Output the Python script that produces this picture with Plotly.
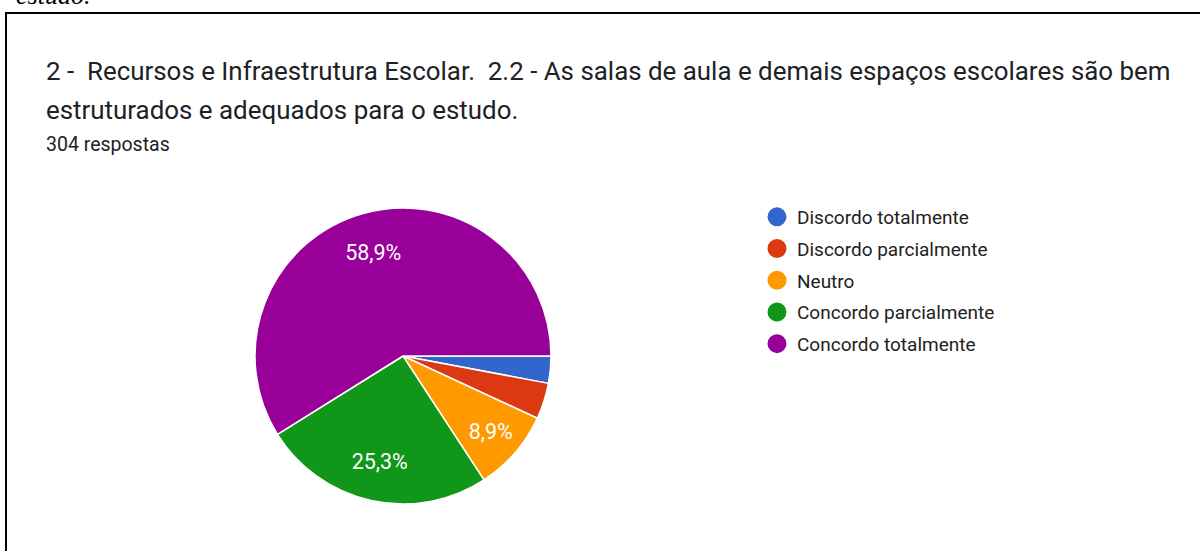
import plotly.graph_objects as go

categories = ["Discordo totalmente", "Discordo parcialmente", "Neutro",
              "Concordo parcialmente", "Concordo totalmente"]
counts = [9, 12, 27, 77, 179]
colors = ["#3366cc", "#dc3912", "#ff9900", "#109618", "#990099"]

title_line1 = "2 -  Recursos e Infraestrutura Escolar.  2.2 - As salas de aula e demais espaços escolares são bem"
title_line2 = "estruturados e adequados para o estudo."
subtitle = "304 respostas"
top_fragment = "estudo."

W, H = 1200, 551
total = sum(counts)
labels_txt = [(f"{c / total * 100:.1f}".replace(".", ",") + "%") if c / total >= 0.05 else ""
              for c in counts]

pie_domain = dict(x=[255 / W, 551 / W], y=[1 - 504 / H, 1 - 208 / H])

fig = go.Figure()
# slices
fig.add_trace(go.Pie(
    labels=categories, values=counts, textinfo="none",
    marker=dict(colors=colors, line=dict(color="white", width=1.5)),
    sort=False, direction="clockwise", rotation=90,
    showlegend=False, hoverinfo="label+percent",
    domain=pie_domain,
))
# transparent ring carrying the percentage labels (places them at ~0.73 R)
fig.add_trace(go.Pie(
    labels=categories, values=counts, text=labels_txt, textinfo="text",
    hole=0.46,
    marker=dict(colors=["rgba(0,0,0,0)"] * len(counts), line=dict(width=0)),
    sort=False, direction="clockwise", rotation=90,
    textposition="inside", insidetextorientation="horizontal",
    textfont=dict(family="Roboto", size=21.5, color="white"),
    showlegend=False, hoverinfo="skip",
    domain=pie_domain,
))

for i, (cat, col) in enumerate(zip(categories, colors)):
    fig.add_trace(go.Scatter(
        x=[None], y=[None], mode="markers", name=cat, legendgroup=f"g{i}",
        marker=dict(symbol="circle", size=16, color=col, line=dict(color=col, width=3)),
        showlegend=True,
    ))

fig.update_layout(
    width=W, height=H,
    margin=dict(l=0, r=0, t=0, b=0),
    paper_bgcolor="white", plot_bgcolor="white",
    xaxis=dict(visible=False), yaxis=dict(visible=False),
    legend=dict(x=757 / W, y=1 - 198 / H, xanchor="left", yanchor="top",
                font=dict(family="Roboto", size=19, color="#222222"),
                tracegroupgap=4, bgcolor="rgba(0,0,0,0)"),
    shapes=[dict(type="rect", xref="paper", yref="paper",
                 x0=6 / W, x1=1.02, y0=-0.05, y1=1 - 13 / H,
                 line=dict(color="black", width=2))],
    annotations=[
        dict(text=title_line1, x=44 / W, y=1 - 71 / H, xref="paper", yref="paper",
             xanchor="left", yanchor="middle", showarrow=False,
             font=dict(family="Roboto", size=25.9, color="#202124")),
        dict(text=title_line2, x=44 / W, y=1 - 110 / H, xref="paper", yref="paper",
             xanchor="left", yanchor="middle", showarrow=False,
             font=dict(family="Roboto", size=25.9, color="#202124")),
        dict(text=subtitle, x=44 / W, y=1 - 145 / H, xref="paper", yref="paper",
             xanchor="left", yanchor="middle", showarrow=False,
             font=dict(family="Roboto", size=19.5, color="#202124")),
        dict(text="<i>" + top_fragment + "</i>", x=92 / W, y=1 + 4 / H, xref="paper", yref="paper",
             xanchor="right", yanchor="middle", showarrow=False,
             font=dict(family="Liberation Serif", size=26, color="black")),
    ],
)

fig.write_html("out.html", config={"displayModeBar": False},
               post_script="document.body.style.margin='0';")
